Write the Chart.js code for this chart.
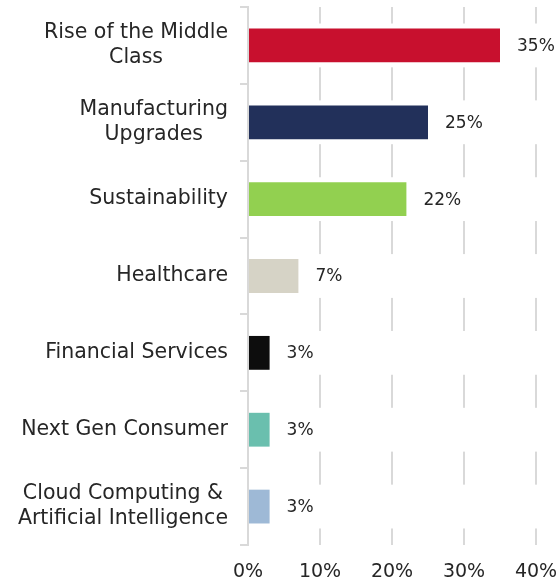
<!DOCTYPE html>
<html>
<head>
<meta charset="utf-8">
<script src="https://cdn.jsdelivr.net/npm/chart.js@4"></script>
<style>
  html, body { margin: 0; padding: 0; background: #fff; }
  #wrap { width: 559px; height: 583px; }
</style>
</head>
<body>
<div id="wrap"><canvas id="myChart"></canvas></div>
<script>
var categories = [
    ['Rise of the Middle', 'Class'],
    ['Manufacturing', 'Upgrades'],
    ['Sustainability'],
    ['Healthcare'],
    ['Financial Services'],
    ['Next Gen Consumer'],
    ['Cloud Computing &', 'Artificial Intelligence']
];
var shares = [35, 25, 22, 7, 3, 3, 3];
var barColors = ['#C8102E', '#22305A', '#92D050', '#D6D3C6', '#0D0D0D', '#6ABFAE', '#9EB9D6'];
var xTicks = [0, 10, 20, 30, 40];

var FONT = "'DejaVu Sans', sans-serif";
var TEXT = '#262626';
var GRID = '#d9d9d9';

// white strip behind each bar so the gridlines break around it
var bandPlugin = {
    id: 'band',
    beforeDatasetsDraw: function (chart) {
        var ctx = chart.ctx, area = chart.chartArea;
        var meta = chart.getDatasetMeta(0);
        ctx.save();
        ctx.fillStyle = '#ffffff';
        meta.data.forEach(function (bar) {
            var h = bar.height + 10;
            ctx.fillRect(area.left + 2, bar.y - h / 2, area.right - area.left + 2, h);
        });
        ctx.restore();
    }
};

// value labels after the bars
var valuePlugin = {
    id: 'values',
    afterDatasetsDraw: function (chart) {
        var ctx = chart.ctx;
        var meta = chart.getDatasetMeta(0);
        ctx.save();
        ctx.font = '17px ' + FONT;
        ctx.fillStyle = TEXT;
        ctx.textAlign = 'left';
        ctx.textBaseline = 'middle';
        meta.data.forEach(function (bar, i) {
            ctx.fillText(shares[i] + '%', bar.x + 17, bar.y + 1);
        });
        ctx.restore();
    }
};

// category labels: block right aligned, lines centred within block
var catPlugin = {
    id: 'cats',
    afterDraw: function (chart) {
        var ctx = chart.ctx;
        var y = chart.scales.y;
        var right = y.right - 20;
        var lh = 25;
        ctx.save();
        ctx.font = '20.5px ' + FONT;
        ctx.fillStyle = TEXT;
        ctx.textAlign = 'center';
        ctx.textBaseline = 'middle';
        categories.forEach(function (lines, i) {
            var w = 0;
            lines.forEach(function (l) { w = Math.max(w, ctx.measureText(l).width); });
            var cy = y.getPixelForTick(i);
            var y0 = cy - (lines.length - 1) * lh / 2;
            lines.forEach(function (l, j) {
                ctx.fillText(l, right - w / 2, y0 + j * lh);
            });
        });
        ctx.restore();
    }
};

function initGraph() {
    var data = {
        labels: categories,
        datasets: [{
            data: shares,
            backgroundColor: barColors,
            borderWidth: 0,
            categoryPercentage: 1,
            barPercentage: 0.44
        }]
    };
    var config = {
        type: 'bar',
        data: data,
        options: {
            indexAxis: 'y',
            responsive: true,
            maintainAspectRatio: false,
            animation: false,
            layout: { padding: { top: 7, right: 23, left: 0, bottom: 0 } },
            plugins: {
                legend: { display: false },
                tooltip: { enabled: false }
            },
            scales: {
                x: {
                    min: 0,
                    max: 40,
                    afterBuildTicks: function (scale) {
                        scale.ticks = xTicks.map(function (v) { return { value: v }; });
                    },
                    afterFit: function (scale) {
                        scale.height = 38;
                        scale.paddingLeft = 0;
                        scale.paddingRight = 0;
                    },
                    grid: { color: GRID, lineWidth: 2, drawTicks: false },
                    border: { display: false },
                    ticks: {
                        padding: 16,
                        color: TEXT,
                        font: { family: FONT, size: 19 },
                        callback: function (v) { return v + '%'; }
                    }
                },
                y: {
                    afterFit: function (scale) { scale.width = 248; },
                    grid: { color: GRID, lineWidth: 2, drawOnChartArea: false, tickLength: 8, offset: true },
                    border: { display: true, color: GRID, width: 2 },
                    ticks: { display: false }
                }
            }
        },
        plugins: [bandPlugin, valuePlugin, catPlugin]
    };
    new Chart(document.getElementById('myChart'), config);
}
initGraph();
</script>
</body>
</html>
